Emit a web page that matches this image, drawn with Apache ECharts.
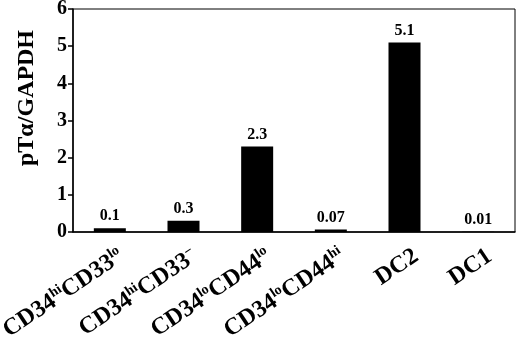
<!DOCTYPE html>
<html><head><meta charset="utf-8">
<script src="https://cdn.jsdelivr.net/npm/echarts@6/dist/echarts.min.js"></script>
<style>html,body{margin:0;padding:0;background:#fff}#c{width:520px;height:340px}</style>
</head><body><div id="c"></div>
<script>
const categories = ['CD34hiCD33lo', 'CD34hiCD33-', 'CD34loCD44lo', 'CD34loCD44hi', 'DC2', 'DC1'];
const labelParts = [
  [['CD34','hi'],['CD33','lo']],
  [['CD34','hi'],['CD33','−']],
  [['CD34','lo'],['CD44','lo']],
  [['CD34','lo'],['CD44','hi']],
  [['DC2','']],
  [['DC1','']]
];
const values = [0.1, 0.3, 2.3, 0.07, 5.1, 0.01];
const valueLabels = ['0.1', '0.3', '2.3', '0.07', '5.1', '0.01'];
const yTicks = [0, 1, 2, 3, 4, 5, 6];
const yTitle = 'pTα/GAPDH';

const FONT = 'Liberation Serif';
const chart = echarts.init(document.getElementById('c'));
chart.setOption({
  animation: false,
  grid: {left: 73, right: 5, top: 9, bottom: 108, show: true, borderColor: '#000', borderWidth: 1,
    containLabel: false, outerBoundsMode: 'none'},
  graphic: [{
    type: 'text', x: 27, y: 98, rotation: Math.PI / 2,
    style: {text: yTitle, fontFamily: FONT, fontWeight: 'bold', fontSize: 24, fill: '#000', align: 'center', verticalAlign: 'middle'}
  }],
  xAxis: {
    type: 'category', data: categories,
    axisLine: {lineStyle: {color: '#000', width: 1.5}},
    axisTick: {length: 8, lineStyle: {color: '#000', width: 1.5}},
    axisLabel: {
      interval: 0, rotate: 34, margin: 30, color: '#000', padding: [0, -14, 0, 0],
      formatter: function (v, i) {
        return labelParts[i].map(p => '{b|' + p[0] + '}' + (p[1] ? '{s|' + p[1] + '}' : '')).join('');
      },
      rich: {
        b: {fontFamily: FONT, fontWeight: 'bold', fontSize: 24, color: '#000', lineHeight: 26},
        s: {fontFamily: FONT, fontWeight: 'bold', fontSize: 14, color: '#000', verticalAlign: 'top', lineHeight: 26, padding: [0, 0, 11, 0]}
      }
    }
  },
  yAxis: {
    type: 'value', min: 0, max: 6, interval: 1,
    splitLine: {show: false},
    axisLine: {show: true, lineStyle: {color: '#000', width: 1.5}},
    axisTick: {show: true, length: 5, lineStyle: {color: '#000', width: 1.5}},
    axisLabel: {fontFamily: FONT, fontWeight: 'bold', fontSize: 20, color: '#000', margin: 6,
      formatter: v => String(yTicks[yTicks.indexOf(v)])}
  },
  series: [{
    type: 'bar', data: values, barWidth: 32,
    itemStyle: {color: '#000'},
    label: {show: true, position: 'top', distance: 4, fontFamily: FONT, fontWeight: 'bold', fontSize: 16, color: '#000',
      formatter: p => valueLabels[p.dataIndex]}
  }]
});
</script></body></html>
